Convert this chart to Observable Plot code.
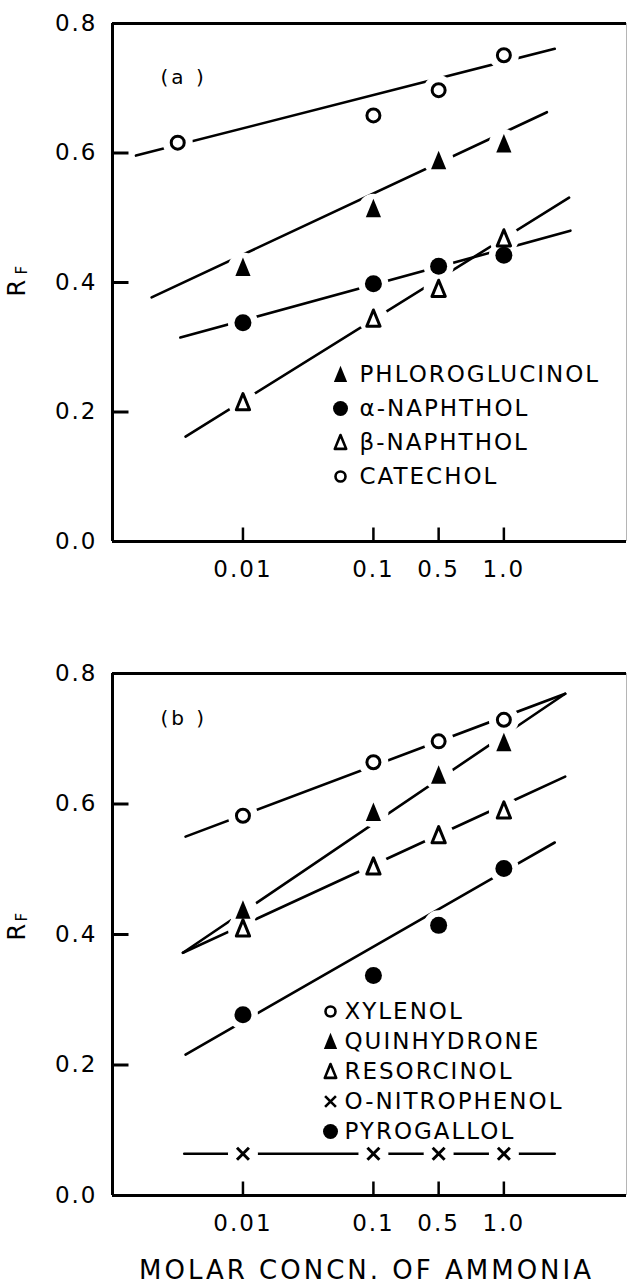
<!DOCTYPE html>
<html>
<head>
<meta charset="utf-8">
<script src="https://cdn.jsdelivr.net/npm/d3@7"></script>
<script src="https://cdn.jsdelivr.net/npm/@observablehq/plot@0.6"></script>
<style>
  html, body { margin: 0; padding: 0; background: #fff; }
  #chart { width: 627px; }
  #chart svg { display: block; }
</style>
</head>
<body>
<div id="chart"></div>
<script>
// ---------- shared axis data ----------
// x is drawn on a log-like position scale: 0.01 -> -2, 0.1 -> -1, 0.5 -> -0.5, 1.0 -> 0
const xTickPos = [-2, -1, -0.5, 0];
const xTickLabels = ["0.01", "0.1", "0.5", "1.0"];
const yTickValues = [0, 0.2, 0.4, 0.6, 0.8];
const yInnerTicks = [0.2, 0.4, 0.6];
const xTitle = "MOLAR CONCN. OF AMMONIA";

// ---------- panel (a) ----------
const aLegend = ["PHLOROGLUCINOL", "α-NAPHTHOL", "β-NAPHTHOL", "CATECHOL"];
const aSymbols = ["filledTriangle", "filledCircle", "openTriangle", "openCircle"];

const phloroX = [-2, -1, -0.5, 0];
const phloroY = [0.423, 0.514, 0.588, 0.614];
const phloroFit = [[-2.70, 0.377], [0.33, 0.663]];

const alphaX = [-2, -1, -0.5, 0];
const alphaY = [0.338, 0.398, 0.425, 0.442];
const alphaFit = [[-2.48, 0.315], [0.51, 0.480]];

const betaX = [-2, -1, -0.5, 0];
const betaY = [0.215, 0.344, 0.390, 0.468];
const betaFit = [[-2.44, 0.162], [0.50, 0.531]];

const catecholX = [-2.5, -1, -0.5, 0];
const catecholY = [0.616, 0.658, 0.697, 0.751];
const catecholFit = [[-2.82, 0.596], [0.39, 0.761]];

// ---------- panel (b) ----------
const bLegend = ["XYLENOL", "QUINHYDRONE", "RESORCINOL", "O-NITROPHENOL", "PYROGALLOL"];
const bSymbols = ["openCircle", "filledTriangle", "openTriangle", "cross", "filledCircle"];

const xylenolX = [-2, -1, -0.5, 0];
const xylenolY = [0.582, 0.664, 0.696, 0.729];
const xylenolFit = [[-2.44, 0.550], [0.47, 0.769]];

const quinX = [-2, -1, -0.5, 0];
const quinY = [0.437, 0.587, 0.644, 0.694];
const quinFit = [[-2.46, 0.372], [0.47, 0.769]];

const resorX = [-2, -1, -0.5, 0];
const resorY = [0.409, 0.504, 0.552, 0.590];
const resorFit = [[-2.46, 0.372], [0.47, 0.642]];

const nitroX = [-2, -1, -0.5, 0];
const nitroY = [0.064, 0.064, 0.064, 0.064];
const nitroFit = [[-2.45, 0.064], [0.39, 0.064]];

const pyroX = [-2, -1, -0.5, 0];
const pyroY = [0.277, 0.337, 0.414, 0.501];
const pyroFit = [[-2.44, 0.216], [0.39, 0.541]];

// ---------- styling ----------
const xDomain = [-3, 0.94];
const FONT = "DejaVu Sans";

const tallTriangle = {
  draw(ctx, size) {
    const r = Math.sqrt(size / Math.PI);
    const h = r * 1.25, w = r * 0.95;
    ctx.moveTo(0, -h);
    ctx.lineTo(w, h * 0.85);
    ctx.lineTo(-w, h * 0.85);
    ctx.closePath();
  }
};
const tickRight = { draw(ctx) { ctx.moveTo(0, 0); ctx.lineTo(16, 0); } };
const tickUp = { draw(ctx) { ctx.moveTo(0, 0); ctx.lineTo(0, -14); } };

const symbolStyles = {
  filledCircle: { symbol: "circle", r: 8.5, fill: "black", stroke: "none" },
  openCircle: { symbol: "circle", r: 6.5, fill: "white", stroke: "black", strokeWidth: 3 },
  filledTriangle: { symbol: tallTriangle, r: 8, fill: "black", stroke: "none" },
  openTriangle: { symbol: tallTriangle, r: 7, fill: "white", stroke: "black", strokeWidth: 3, strokeLinejoin: "round" },
  cross: { symbol: "times", r: 5.5, fill: "none", stroke: "black", strokeWidth: 3 }
};
const legendStyles = {
  filledCircle: { symbol: "circle", r: 7.5, fill: "black", stroke: "none" },
  openCircle: { symbol: "circle", r: 5, fill: "white", stroke: "black", strokeWidth: 2.6 },
  filledTriangle: { symbol: tallTriangle, r: 7, fill: "black", stroke: "none" },
  openTriangle: { symbol: tallTriangle, r: 6, fill: "white", stroke: "black", strokeWidth: 2.6, strokeLinejoin: "round" },
  cross: { symbol: "times", r: 5, fill: "none", stroke: "black", strokeWidth: 2.6 }
};

function makeSeries(xs, ys, fit, sym) { return { xs, ys, fit, sym }; }

function panel(cfg) {
  const { series, legend, symbols, tag, height, marginTop, marginBottom,
          rDy, fDy, legendDx, legendTextDx, legendDy, legendStep, withTitle } = cfg;
  const pts = series.flatMap(s => s.xs.map((x, i) => ({ x, y: s.ys[i] })));
  const marks = [];
  // frame (top, bottom, left heavy; right faint)
  marks.push(Plot.ruleY([0, 0.8], { stroke: "black", strokeWidth: 3 }));
  marks.push(Plot.ruleX([xDomain[0]], { stroke: "black", strokeWidth: 3 }));
  marks.push(Plot.ruleX([xDomain[1]], { stroke: "#b5b5b5", strokeWidth: 1 }));
  // inward ticks
  marks.push(Plot.dot(yInnerTicks, { x: () => xDomain[0], y: d => d, symbol: tickRight, stroke: "black", strokeWidth: 3, fill: "none" }));
  marks.push(Plot.dot(xTickPos, { x: d => d, y: () => 0, symbol: tickUp, stroke: "black", strokeWidth: 2.5, fill: "none" }));
  // fitted lines
  for (const s of series) {
    marks.push(Plot.line(s.fit, { x: d => d[0], y: d => d[1], stroke: "black", strokeWidth: 2.6 }));
  }
  // white halos that break the lines around markers
  marks.push(Plot.dot(pts, { x: "x", y: "y", r: 15, fill: "white", stroke: "none" }));
  // markers
  for (const s of series) {
    marks.push(Plot.dot(s.xs.map((x, i) => ({ x, y: s.ys[i] })), { x: "x", y: "y", ...symbolStyles[s.sym] }));
  }
  // legend
  legend.forEach((name, i) => {
    marks.push(Plot.dot([name], { frameAnchor: "top-left", dx: legendDx, dy: legendDy + i * legendStep, ...legendStyles[symbols[i]] }));
    marks.push(Plot.text([name], { frameAnchor: "top-left", lineAnchor: "middle", dx: legendTextDx, dy: legendDy + i * legendStep, text: d => d, textAnchor: "start", fontSize: 23, fill: "black" }));
  });
  // panel tag
  marks.push(Plot.text([tag], { frameAnchor: "top-left", lineAnchor: "middle", dx: 48, dy: cfg.tagDy, text: d => d, textAnchor: "start", fontSize: 20, fill: "black" }));
  // R_F axis label
  marks.push(Plot.text(["R"], { frameAnchor: "left", lineAnchor: "middle", dx: -95, dy: rDy, rotate: -90, text: d => d, fontSize: 24, fill: "black" }));
  marks.push(Plot.text(["F"], { frameAnchor: "left", lineAnchor: "middle", dx: -90, dy: fDy, rotate: -90, text: d => d, fontSize: 15, fill: "black" }));
  if (withTitle) {
    marks.push(Plot.text([xTitle], { frameAnchor: "bottom", lineAnchor: "middle", dx: -3, dy: 75, text: d => d, fontSize: 26, fill: "black" }));
  }
  const svg = Plot.plot({
    width: 627,
    height,
    marginTop,
    marginBottom,
    marginLeft: 112,
    marginRight: 1,
    style: { fontFamily: FONT, fontSize: "23px", background: "white", color: "black" },
    x: { type: "linear", domain: xDomain, ticks: xTickPos, tickFormat: d => xTickLabels[xTickPos.indexOf(d)], tickSize: 0, tickPadding: 19, label: null },
    y: { type: "linear", domain: [0, 0.8], ticks: yTickValues, tickFormat: d3.format(".1f"), tickSize: 0, tickPadding: 15, label: null },
    marks
  });
  const sel = d3.select(svg);
  sel.style("letter-spacing", "2px");
  sel.selectAll("text").filter(function () { return this.textContent === xTitle; }).style("letter-spacing", "3px");
  sel.selectAll("text").filter(function () { return this.textContent === tag; }).style("letter-spacing", "3px");
  return svg;
}

const seriesA = [
  makeSeries(phloroX, phloroY, phloroFit, "filledTriangle"),
  makeSeries(alphaX, alphaY, alphaFit, "filledCircle"),
  makeSeries(betaX, betaY, betaFit, "openTriangle"),
  makeSeries(catecholX, catecholY, catecholFit, "openCircle")
];
const seriesB = [
  makeSeries(xylenolX, xylenolY, xylenolFit, "openCircle"),
  makeSeries(quinX, quinY, quinFit, "filledTriangle"),
  makeSeries(resorX, resorY, resorFit, "openTriangle"),
  makeSeries(nitroX, nitroY, nitroFit, "cross"),
  makeSeries(pyroX, pyroY, pyroFit, "filledCircle")
];

const chart = document.getElementById("chart");
chart.appendChild(panel({
  series: seriesA, legend: aLegend, symbols: aSymbols, tag: "(a )",
  height: 600, marginTop: 23, marginBottom: 59,
  rDy: 14, fDy: -8, tagDy: 54,
  legendDx: 228, legendTextDx: 247, legendDy: 351, legendStep: 34,
  withTitle: false
}));
chart.appendChild(panel({
  series: seriesB, legend: bLegend, symbols: bSymbols, tag: "(b )",
  height: 684, marginTop: 73, marginBottom: 89,
  rDy: 6, fDy: -13, tagDy: 45,
  legendDx: 218, legendTextDx: 232, legendDy: 338, legendStep: 30,
  withTitle: true
}));
</script>
</body>
</html>
